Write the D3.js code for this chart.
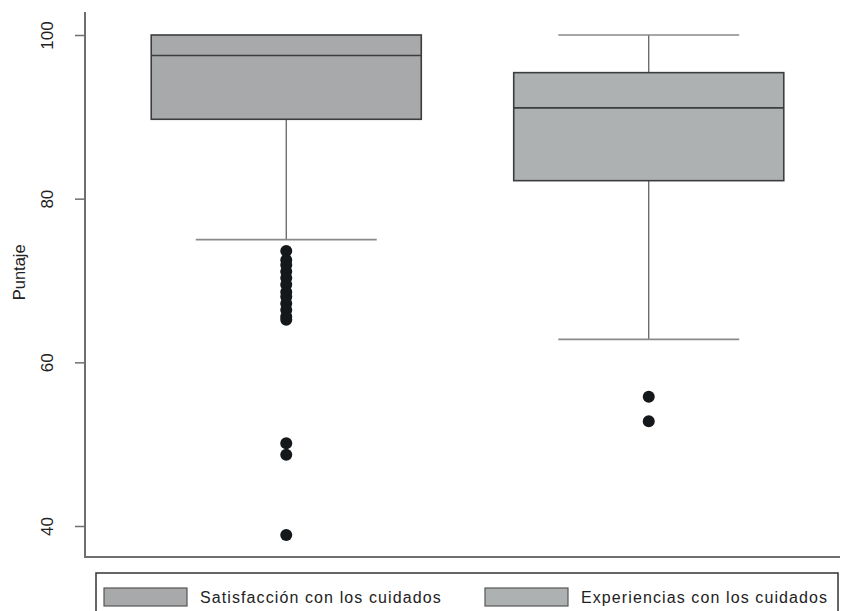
<!DOCTYPE html>
<meta charset="utf-8">
<style>
body { margin: 0; background: #fff; }
text { font-family: "Liberation Sans", Arial, sans-serif; fill: #222; }
.box { stroke: #3c3d3e; stroke-width: 1.6px; }
.whisker { stroke: #555; stroke-width: 1.2px; }
.cap { stroke: #8a8a8a; stroke-width: 1.6px; }
.axis-line { stroke: #6f6f6f; stroke-width: 2px; }
</style>
<svg width="849" height="611"></svg>
<script src="https://cdnjs.cloudflare.com/ajax/libs/d3/7.8.5/d3.min.js"></script>
<script>

// data
var categories = ["Satisfacción con los cuidados", "Experiencias con los cuidados"];
var q1       = [89.7, 82.2];
var medians  = [97.5, 91.1];
var q3       = [100, 95.4];
var whiskLo  = [75.0, 62.8];
var whiskHi  = [100, 100];
var outliers = [
  [73.6, 72.5, 71.9, 71.1, 70.3, 69.5, 68.6, 68.0, 67.2, 66.4, 65.6, 65.2, 50.1, 48.7, 38.9],
  [55.8, 52.8]
];
var fills = ["#a7a9aa", "#aeb1b2"];
var yTicks = [40, 60, 80, 100];

var svg = d3.select("svg");

// y axis is drawn a bit beyond the ticks, like Stata does
var y = d3.scaleLinear()
    .domain([40, 100])
    .range([526, 35]);
var yLow = 36.2, yHigh = 102.8;

var x = d3.scaleBand()
    .domain(categories)
    .range([105, 830]);
var boxW = x.bandwidth() * 0.745;
var capW = boxW * 0.67;

var axisX = 85;

// axis lines
svg.append("line")
    .attr("class", "axis-line")
    .attr("x1", axisX).attr("x2", axisX)
    .attr("y1", y(yHigh)).attr("y2", y(yLow));
svg.append("line")
    .attr("class", "axis-line")
    .attr("x1", axisX - 1).attr("x2", 840)
    .attr("y1", y(yLow)).attr("y2", y(yLow));

var ya = svg.append("g")
    .attr("transform", "translate(" + axisX + ",0)")
    .call(d3.axisLeft(y).tickValues(yTicks).tickSize(10).tickPadding(0));
ya.select(".domain").remove();
ya.selectAll(".tick line").attr("stroke", "#6f6f6f").attr("stroke-width", 1.5);
ya.selectAll(".tick text")
    .attr("font-size", 17)
    .attr("font-family", "Liberation Sans, Arial, sans-serif")
    .attr("fill", "#222")
    .attr("text-anchor", "middle")
    .attr("transform", "rotate(-90)")
    .attr("x", 0).attr("dy", 0)
    .attr("y", -32);

svg.append("text")
    .attr("transform", "translate(25," + y(71) + ") rotate(-90)")
    .attr("text-anchor", "middle")
    .attr("font-size", 16.5)
    .text("Puntaje");

// boxes
var g = svg.selectAll(".grp")
    .data(categories)
    .enter().append("g")
    .attr("class", "grp");

g.each(function(c, i) {
  var sel = d3.select(this);
  var cx = x(c) + x.bandwidth() / 2;

  sel.append("line").attr("class", "whisker")
      .attr("x1", cx).attr("x2", cx)
      .attr("y1", y(q1[i])).attr("y2", y(whiskLo[i]));
  sel.append("line").attr("class", "whisker")
      .attr("x1", cx).attr("x2", cx)
      .attr("y1", y(q3[i])).attr("y2", y(whiskHi[i]));
  sel.append("line").attr("class", "cap")
      .attr("x1", cx - capW / 2).attr("x2", cx + capW / 2)
      .attr("y1", y(whiskLo[i])).attr("y2", y(whiskLo[i]));
  if (whiskHi[i] > q3[i]) {
    sel.append("line").attr("class", "cap")
        .attr("x1", cx - capW / 2).attr("x2", cx + capW / 2)
        .attr("y1", y(whiskHi[i])).attr("y2", y(whiskHi[i]));
  }

  sel.append("rect").attr("class", "box")
      .attr("x", cx - boxW / 2)
      .attr("width", boxW)
      .attr("y", y(q3[i]))
      .attr("height", y(q1[i]) - y(q3[i]))
      .attr("fill", fills[i]);
  sel.append("line").attr("class", "box")
      .attr("x1", cx - boxW / 2).attr("x2", cx + boxW / 2)
      .attr("y1", y(medians[i])).attr("y2", y(medians[i]));

  sel.selectAll("circle")
      .data(outliers[i])
      .enter().append("circle")
      .attr("cx", cx)
      .attr("cy", function(d) { return y(d); })
      .attr("r", 6)
      .attr("fill", "#15181b");
});

// legend
var leg = svg.append("g").attr("transform", "translate(96,573)");
leg.append("rect")
    .attr("width", 742).attr("height", 48)
    .attr("fill", "#fff").attr("stroke", "#333").attr("stroke-width", 1.5);
var legItemX = [8, 389];
categories.forEach(function(c, i) {
  leg.append("rect")
      .attr("x", legItemX[i]).attr("y", 15)
      .attr("width", 83).attr("height", 18)
      .attr("fill", fills[i]).attr("stroke", "#555").attr("stroke-width", 1.2);
  leg.append("text")
      .attr("x", legItemX[i] + 96).attr("y", 30)
      .attr("font-size", 16)
      .attr("letter-spacing", "1.1px")
      .text(c);
});
</script>
